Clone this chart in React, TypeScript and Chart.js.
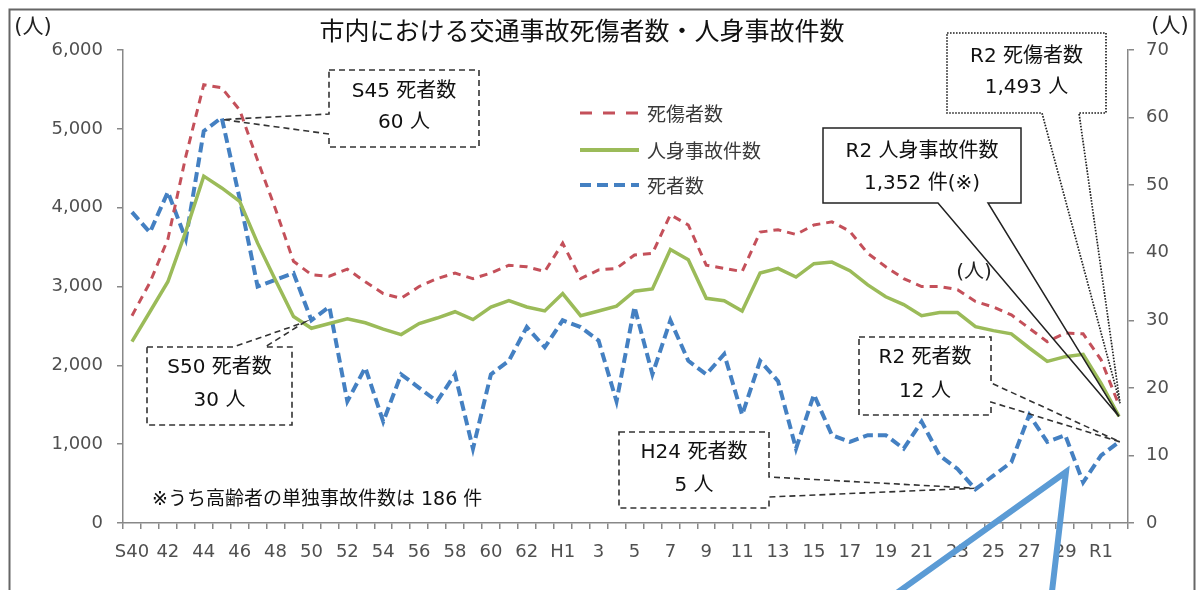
import React, { useEffect, useRef } from "react";
import { Chart, registerables } from "chart.js";

Chart.register(...registerables);

// ---- Data ----
const categories = [
  "S40", "S41", "S42", "S43", "S44", "S45", "S46", "S47", "S48", "S49",
  "S50", "S51", "S52", "S53", "S54", "S55", "S56", "S57", "S58", "S59",
  "S60", "S61", "S62", "S63",
  "H1", "H2", "H3", "H4", "H5", "H6", "H7", "H8", "H9", "H10",
  "H11", "H12", "H13", "H14", "H15", "H16", "H17", "H18", "H19", "H20",
  "H21", "H22", "H23", "H24", "H25", "H26", "H27", "H28", "H29", "H30",
  "R1", "R2",
];

const tickLabels = [
  "S40", "", "42", "", "44", "", "46", "", "48", "", "50", "", "52", "", "54", "", "56", "", "58", "", "60", "", "62", "",
  "H1", "", "3", "", "5", "", "7", "", "9", "", "11", "", "13", "", "15", "", "17", "", "19", "", "21", "", "23", "", "25", "", "27", "", "29", "",
  "R1", "",
];

// 死傷者数 (left axis)
const casualties = [
  2630, 3050, 3600, 4650, 5560, 5520, 5240, 4600, 3980, 3320,
  3150, 3130, 3220, 3060, 2910, 2850, 3000, 3100, 3170, 3100,
  3170, 3270, 3250, 3190,
  3550, 3100, 3210, 3230, 3400, 3420, 3910, 3780, 3270, 3230,
  3190, 3690, 3720, 3660, 3780, 3820, 3700, 3420, 3250, 3100,
  3000, 3000, 2960, 2810, 2740, 2640, 2470, 2300, 2410, 2400,
  2070, 1493,
];

// 人身事故件数 (left axis)
const injuryAccidents = [
  2300, 2680, 3060, 3700, 4400, 4250, 4080, 3550, 3080, 2620,
  2470, 2530, 2590, 2540, 2460, 2390, 2530, 2600, 2680, 2580,
  2740, 2820, 2740, 2690,
  2910, 2630, 2690, 2750, 2940, 2970, 3470, 3340, 2850, 2820,
  2690, 3170, 3230, 3120, 3290, 3310, 3200, 3020, 2870, 2770,
  2630, 2670, 2670, 2490, 2440, 2400, 2220, 2050, 2110, 2140,
  1770, 1352,
];

// 死者数 (right axis)
const deaths = [
  46, 43, 49, 42, 58, 60, 48, 35, 36, 37,
  30, 32, 18, 23, 15, 22, 20, 18, 22, 11,
  22, 24, 29, 26,
  30, 29, 27, 18, 32, 22, 30, 24, 22, 25,
  16, 24, 21, 11, 19, 13, 12, 13, 13, 11,
  15, 10, 8, 5, 7, 9, 16, 12, 13, 6,
  10, 12,
];

const seriesNames = ["死傷者数", "人身事故件数", "死者数"];
const titleText = "市内における交通事故死傷者数・人身事故件数";
const unitText = "(人)";
const footnoteText = "※うち高齢者の単独事故件数は 186 件";

// ---- Style ----
const W = 1198;
const H = 590;
const PLOT = { left: 123, right: 1128, top: 50, bottom: 523 };
const FONT_LATIN = '"DejaVu Sans", "Noto Sans CJK JP", sans-serif';
const FONT_JP = '"Noto Sans CJK JP", "DejaVu Sans", sans-serif';
const COLORS = {
  red: "#C4505A",
  green: "#9BBB59",
  blue: "#4480C2",
  pointer: "#5B9BD5",
  axis: "#888888",
  tick: "#505050",
};

type Callout = {
  lines: string[];
  box: [number, number, number, number];
  edge: "top" | "right" | "bottom" | "left";
  base: [number, number];
  ds: number;
  idx: number;
  dx: number;
  dy: number;
  style: "dash" | "dot" | "solid";
  textY: [number, number];
};

const callouts: Callout[] = [
  { lines: ["S45 死者数", "60 人"], box: [329, 70, 479, 147], edge: "left", base: [114, 134], ds: 2, idx: 5, dx: 1, dy: 2, style: "dash", textY: [92, 123] },
  { lines: ["S50 死者数", "30 人"], box: [147, 347, 292, 425], edge: "top", base: [233, 265], ds: 2, idx: 10, dx: -7, dy: 2, style: "dash", textY: [368, 401] },
  { lines: ["R2 人身事故件数", "1,352 件(※)"], box: [823, 128, 1021, 203], edge: "bottom", base: [938, 988], ds: 1, idx: 55, dx: 0, dy: 0, style: "solid", textY: [152, 184] },
  { lines: ["R2 死傷者数", "1,493 人"], box: [947, 33, 1106, 113], edge: "bottom", base: [1042, 1079], ds: 0, idx: 55, dx: 1, dy: -2, style: "dot", textY: [57, 88] },
  { lines: ["R2 死者数", "12 人"], box: [859, 337, 991, 415], edge: "right", base: [383, 402], ds: 2, idx: 55, dx: 1, dy: 0, style: "dash", textY: [358, 392] },
  { lines: ["H24 死者数", "5 人"], box: [619, 432, 769, 508], edge: "right", base: [477, 497], ds: 2, idx: 47, dx: -1, dy: -1, style: "dash", textY: [453, 486] },
];

function calloutPath(
  ctx: CanvasRenderingContext2D,
  c: Callout,
  tx: number,
  ty: number
) {
  const [l, t, r, b] = c.box;
  const [a1, a2] = c.base;
  ctx.beginPath();
  ctx.moveTo(l, t);
  if (c.edge === "top") {
    ctx.lineTo(a1, t);
    ctx.lineTo(tx, ty);
    ctx.lineTo(a2, t);
  }
  ctx.lineTo(r, t);
  if (c.edge === "right") {
    ctx.lineTo(r, a1);
    ctx.lineTo(tx, ty);
    ctx.lineTo(r, a2);
  }
  ctx.lineTo(r, b);
  if (c.edge === "bottom") {
    ctx.lineTo(a2, b);
    ctx.lineTo(tx, ty);
    ctx.lineTo(a1, b);
  }
  ctx.lineTo(l, b);
  if (c.edge === "left") {
    ctx.lineTo(l, a2);
    ctx.lineTo(tx, ty);
    ctx.lineTo(l, a1);
  }
  ctx.closePath();
}

const decorPlugin = {
  id: "decor",
  afterDraw(chart: any) {
    const ctx: CanvasRenderingContext2D = chart.ctx;
    ctx.save();

    // Title
    ctx.fillStyle = "#111";
    ctx.textAlign = "center";
    ctx.textBaseline = "middle";
    ctx.font = `25px ${FONT_JP}`;
    ctx.fillText(titleText, 582, 30);

    // Unit labels
    ctx.font = `21px ${FONT_LATIN}`;
    ctx.fillStyle = "#222";
    ctx.fillText(unitText, 33, 28);
    ctx.fillText(unitText, 1170, 27);
    ctx.font = `20px ${FONT_LATIN}`;
    ctx.fillText(unitText, 974, 273);

    // Footnote
    ctx.textAlign = "left";
    ctx.font = `19px ${FONT_LATIN}`;
    ctx.fillStyle = "#111";
    ctx.fillText(footnoteText, 152, 500);

    // Legend
    const legend = [
      { label: seriesNames[0], color: COLORS.red, dash: [12, 11], width: 3, y: 113 },
      { label: seriesNames[1], color: COLORS.green, dash: [], width: 4, y: 150 },
      { label: seriesNames[2], color: COLORS.blue, dash: [11, 6], width: 4, y: 185 },
    ];
    legend.forEach((it) => {
      ctx.beginPath();
      ctx.setLineDash(it.dash);
      ctx.strokeStyle = it.color;
      ctx.lineWidth = it.width;
      ctx.lineCap = "butt";
      ctx.moveTo(580, it.y);
      ctx.lineTo(639, it.y);
      ctx.stroke();
      ctx.setLineDash([]);
      ctx.fillStyle = "#3a3a3a";
      ctx.font = `19px ${FONT_JP}`;
      ctx.textAlign = "left";
      ctx.fillText(it.label, 647, it.y + 1);
    });

    // Callouts
    callouts.forEach((c) => {
      const pt = chart.getDatasetMeta(c.ds).data[c.idx];
      const tx = pt.x + c.dx;
      const ty = pt.y + c.dy;
      const [l, t, r, b] = c.box;
      ctx.setLineDash([]);
      ctx.fillStyle = "#ffffff";
      ctx.fillRect(l, t, r - l, b - t);
      if (c.style === "dash") {
        ctx.setLineDash([6, 4]);
        ctx.lineWidth = 1.6;
        ctx.strokeStyle = "#333";
      } else if (c.style === "dot") {
        ctx.setLineDash([1.6, 1.4]);
        ctx.lineWidth = 1.7;
        ctx.strokeStyle = "#222";
      } else {
        ctx.setLineDash([]);
        ctx.lineWidth = 1.5;
        ctx.strokeStyle = "#222";
      }
      ctx.lineJoin = "miter";
      calloutPath(ctx, c, tx, ty);
      ctx.stroke();
      ctx.setLineDash([]);
      ctx.fillStyle = "#111";
      ctx.font = `20px ${FONT_LATIN}`;
      ctx.textAlign = "center";
      const cx = (l + r) / 2;
      c.lines.forEach((s, i) => ctx.fillText(s, cx, c.textY[i]));
    });

    // Outer frame
    ctx.setLineDash([]);
    ctx.strokeStyle = "#666";
    ctx.lineWidth = 2;
    ctx.strokeRect(9.5, 9.5, 1185, 700);

    // Large blue pointer outline
    ctx.beginPath();
    ctx.strokeStyle = COLORS.pointer;
    ctx.lineWidth = 6;
    ctx.lineJoin = "miter";
    ctx.moveTo(887, 600);
    ctx.lineTo(1066, 472);
    ctx.lineTo(1051, 600);
    ctx.stroke();

    ctx.restore();
  },
};

export default function App() {
  const ref = useRef<HTMLCanvasElement | null>(null);

  useEffect(() => {
    if (!ref.current) return;
    const tickFont = { family: FONT_LATIN, size: 18 };
    const chart = new Chart(ref.current, {
      type: "line",
      data: {
        labels: categories,
        datasets: [
          {
            label: seriesNames[0],
            data: casualties,
            borderColor: COLORS.red,
            backgroundColor: COLORS.red,
            borderWidth: 3,
            borderDash: [8, 6],
            pointRadius: 0,
            tension: 0,
            yAxisID: "y",
          },
          {
            label: seriesNames[1],
            data: injuryAccidents,
            borderColor: COLORS.green,
            backgroundColor: COLORS.green,
            borderWidth: 3.5,
            pointRadius: 0,
            tension: 0,
            yAxisID: "y",
          },
          {
            label: seriesNames[2],
            data: deaths,
            borderColor: COLORS.blue,
            backgroundColor: COLORS.blue,
            borderWidth: 4,
            borderDash: [10, 5],
            pointRadius: 0,
            tension: 0,
            yAxisID: "y1",
          },
        ],
      },
      options: {
        responsive: false,
        animation: false,
        devicePixelRatio: 1,
        layout: { padding: { left: 0, right: 0, top: PLOT.top, bottom: 0 } },
        plugins: {
          legend: { display: false },
          title: { display: false },
          tooltip: { enabled: false },
        },
        scales: {
          x: {
            type: "category",
            offset: true,
            grid: {
              offset: true,
              drawOnChartArea: false,
              drawTicks: true,
              tickLength: 6,
              color: COLORS.axis,
              lineWidth: 1.5,
            },
            border: { display: true, color: COLORS.axis, width: 1.5 },
            ticks: {
              autoSkip: false,
              maxRotation: 0,
              minRotation: 0,
              padding: 13,
              color: COLORS.tick,
              font: tickFont,
              callback: (_v: any, i: number) => tickLabels[i],
            },
            afterFit: (s: any) => {
              s.height = H - PLOT.bottom;
            },
          },
          y: {
            position: "left",
            min: 0,
            max: 6000,
            grid: {
              drawOnChartArea: false,
              drawTicks: true,
              tickLength: 6,
              color: COLORS.axis,
              lineWidth: 1.5,
            },
            border: { display: true, color: COLORS.axis, width: 1.5 },
            ticks: {
              stepSize: 1000,
              padding: 14,
              color: COLORS.tick,
              font: tickFont,
              callback: (v: any) => Number(v).toLocaleString("en-US"),
            },
            afterFit: (s: any) => {
              s.width = PLOT.left;
            },
          },
          y1: {
            position: "right",
            min: 0,
            max: 70,
            grid: {
              drawOnChartArea: false,
              drawTicks: true,
              tickLength: 6,
              color: COLORS.axis,
              lineWidth: 1.5,
            },
            border: { display: true, color: COLORS.axis, width: 1.5 },
            ticks: {
              stepSize: 10,
              padding: 12,
              color: COLORS.tick,
              font: tickFont,
            },
            afterFit: (s: any) => {
              s.width = W - PLOT.right;
            },
          },
        },
      },
      plugins: [decorPlugin],
    } as any);
    return () => chart.destroy();
  }, []);

  return (
    <div style={{ position: "absolute", left: 0, top: 0, width: W, height: H, background: "#fff" }}>
      <canvas ref={ref} width={W} height={H} style={{ display: "block", width: W, height: H }} />
    </div>
  );
}
